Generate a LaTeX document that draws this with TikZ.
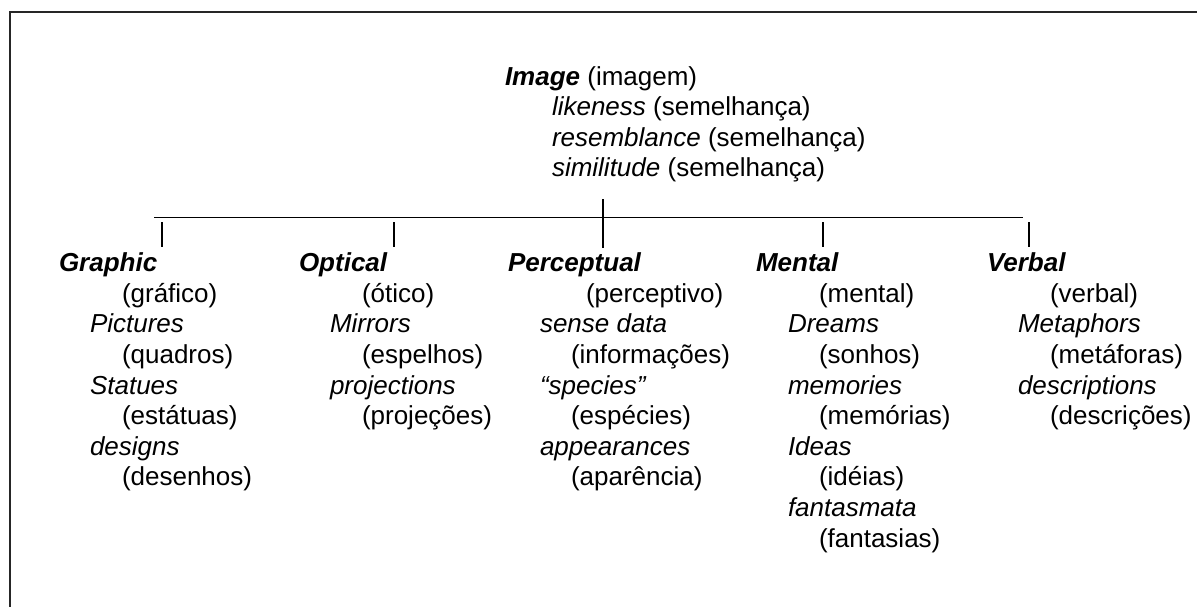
\documentclass[tikz,border=0pt]{standalone}
\usepackage{fontspec}
\setmainfont{Liberation Sans}
\begin{document}
\begin{tikzpicture}[x=1pt,y=-1pt,
  txt/.style={anchor=base west, inner sep=0pt, outer sep=0pt, font=\fontsize{26}{31}\selectfont},
  hd/.style={txt, font=\fontsize{26}{31}\selectfont\bfseries\itshape},
  it/.style={txt, font=\fontsize{26}{31}\selectfont\itshape},
  border/.style={line width=2pt, black!85},
  tree/.style={line width=1.8pt, black},
  tick/.style={line width=1.6pt, black}]
\useasboundingbox (0,0) rectangle (1197,606);
\draw[border] (9.5,620) -- (9.5,11.5) -- (1210,11.5);

% top block
\node[txt] (img) at (505,85) {\textbf{\textit{Image}} (imagem)};
\node[txt] (lik) at (552,115.6) {\textit{likeness} (semelhança)};
\node[txt] (res) at (552,146.2) {\textit{resemblance} (semelhança)};
\node[txt] (sim) at (552,176.8) {\textit{similitude} (semelhança)};

% tree lines
\coordinate (stemtop) at (602.7,199);
\coordinate (stembot) at (602.7,248);
\coordinate (barL) at (154,217.5);
\coordinate (barR) at (1023,217.5);
\draw[tree] (stemtop) -- (stembot);
\draw[tree] (barL) -- (barR);
\foreach \n/\x in {tg/162,to/394,tm/823,tv/1029}{
  \coordinate (\n a) at (\x,222);
  \coordinate (\n b) at (\x,247);
  \draw[tick] (\n a) -- (\n b);
}

% Graphic
\node[hd] (g0) at (59,271.7) {Graphic};
\node[txt] (g1) at (122,302.3) {(gráfico)};
\node[it] (g2) at (90,332.9) {Pictures};
\node[txt] (g3) at (122,363.5) {(quadros)};
\node[it] (g4) at (90,394.1) {Statues};
\node[txt] (g5) at (122,424.7) {(estátuas)};
\node[it] (g6) at (90,455.3) {designs};
\node[txt] (g7) at (122,485.9) {(desenhos)};

% Optical
\node[hd] (o0) at (299,271.7) {Optical};
\node[txt] (o1) at (362,302.3) {(ótico)};
\node[it] (o2) at (330,332.9) {Mirrors};
\node[txt] (o3) at (362,363.5) {(espelhos)};
\node[it] (o4) at (330,394.1) {projections};
\node[txt] (o5) at (362,424.7) {(projeções)};

% Perceptual
\node[hd] (p0) at (508,271.7) {Perceptual};
\node[txt] (p1) at (586,302.3) {(perceptivo)};
\node[it] (p2) at (540,332.9) {sense data};
\node[txt] (p3) at (571,363.5) {(informações)};
\node[it] (p4) at (540,394.1) {“species”};
\node[txt] (p5) at (571,424.7) {(espécies)};
\node[it] (p6) at (540,455.3) {appearances};
\node[txt] (p7) at (571,485.9) {(aparência)};

% Mental
\node[hd] (m0) at (756,271.7) {Mental};
\node[txt] (m1) at (819,302.3) {(mental)};
\node[it] (m2) at (788,332.9) {Dreams};
\node[txt] (m3) at (819,363.5) {(sonhos)};
\node[it] (m4) at (788,394.1) {memories};
\node[txt] (m5) at (819,424.7) {(memórias)};
\node[it] (m6) at (788,455.3) {Ideas};
\node[txt] (m7) at (819,485.9) {(idéias)};
\node[it] (m8) at (788,516.5) {fantasmata};
\node[txt] (m9) at (819,547.1) {(fantasias)};

% Verbal
\node[hd] (v0) at (987,271.7) {Verbal};
\node[txt] (v1) at (1050,302.3) {(verbal)};
\node[it] (v2) at (1018,332.9) {Metaphors};
\node[txt] (v3) at (1050,363.5) {(metáforas)};
\node[it] (v4) at (1018,394.1) {descriptions};
\node[txt] (v5) at (1050,424.7) {(descrições)};
\end{tikzpicture}
\end{document}
